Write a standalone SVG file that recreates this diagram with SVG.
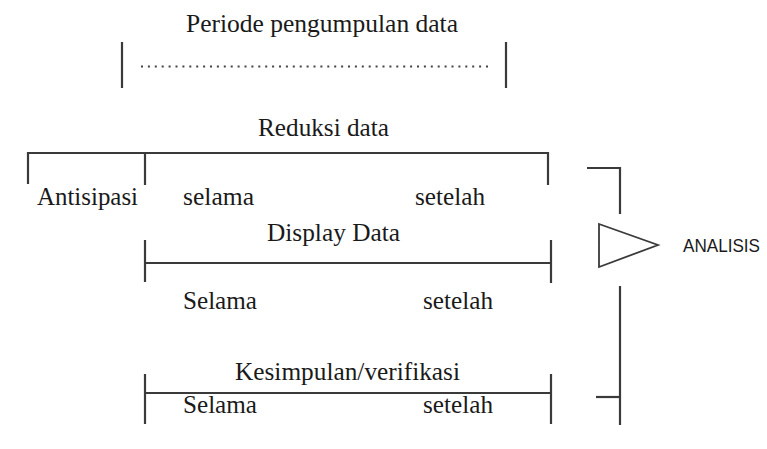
<svg xmlns="http://www.w3.org/2000/svg" width="767" height="449" viewBox="0 0 767 449">
  <style>
    .ln { stroke: #3a3a3a; stroke-width: 2.2; fill: none; stroke-linecap: butt; }
    .t { font-family: "Liberation Serif", "Times New Roman", serif; font-size: 26px; fill: #1a1a1a; }
    .s { font-family: "Liberation Sans", Arial, sans-serif; font-size: 19px; fill: #1a1a1a; }
  </style>
  <rect width="767" height="449" fill="#ffffff"/>

  <g id="periode">
    <text class="t" x="186" y="32" textLength="272" lengthAdjust="spacingAndGlyphs">Periode pengumpulan data</text>
    <line class="ln" x1="122" y1="42" x2="122" y2="88"/>
    <line class="ln" x1="506" y1="42" x2="506" y2="88"/>
    <line x1="141" y1="66.5" x2="488" y2="66.5" stroke="#444" stroke-width="2" stroke-dasharray="2 4.9"/>
  </g>

  <g id="reduksi">
    <text class="t" x="258" y="136" textLength="131" lengthAdjust="spacingAndGlyphs">Reduksi data</text>
    <text class="t" x="37" y="205" textLength="101" lengthAdjust="spacingAndGlyphs">Antisipasi</text>
    <text class="t" x="183" y="205" textLength="71" lengthAdjust="spacingAndGlyphs">selama</text>
    <text class="t" x="415" y="205" textLength="70" lengthAdjust="spacingAndGlyphs">setelah</text>
  </g>

  <g id="display">
    <text class="t" x="267" y="241" textLength="133" lengthAdjust="spacingAndGlyphs">Display Data</text>
    <text class="t" x="183" y="309" textLength="74" lengthAdjust="spacingAndGlyphs">Selama</text>
    <text class="t" x="423" y="309" textLength="70" lengthAdjust="spacingAndGlyphs">setelah</text>
  </g>

  <g id="kesimpulan">
    <text class="t" x="235" y="380" textLength="225" lengthAdjust="spacingAndGlyphs">Kesimpulan/verifikasi</text>
    <text class="t" x="183" y="413" textLength="74" lengthAdjust="spacingAndGlyphs">Selama</text>
    <text class="t" x="423" y="413" textLength="70" lengthAdjust="spacingAndGlyphs">setelah</text>
  </g>

  <g id="analisis">
    <polygon points="599,224 658,245 599,267" fill="#ffffff" stroke="#3a3a3a" stroke-width="1.8" stroke-linejoin="miter"/>
    <text class="s" x="683" y="252" textLength="77" lengthAdjust="spacingAndGlyphs">ANALISIS</text>
  </g>

  <g id="connectors">
    <!-- Reduksi data bracket -->
    <path class="ln" d="M28,184 V153 H548 V185"/>
    <line class="ln" x1="145" y1="153" x2="145" y2="185"/>
    <!-- Display data bracket -->
    <line class="ln" x1="145" y1="263" x2="551" y2="263"/>
    <line class="ln" x1="145" y1="240" x2="145" y2="282"/>
    <line class="ln" x1="551" y1="240" x2="551" y2="283"/>
    <!-- Kesimpulan bracket -->
    <line class="ln" x1="145" y1="393" x2="551" y2="393"/>
    <line class="ln" x1="145" y1="374" x2="145" y2="424"/>
    <line class="ln" x1="551" y1="374" x2="551" y2="424"/>
    <!-- Analysis bracket -->
    <path class="ln" d="M587,168 H620 V214"/>
    <line class="ln" x1="620" y1="286" x2="620" y2="425"/>
    <line class="ln" x1="596" y1="397" x2="620" y2="397"/>
  </g>
</svg>
